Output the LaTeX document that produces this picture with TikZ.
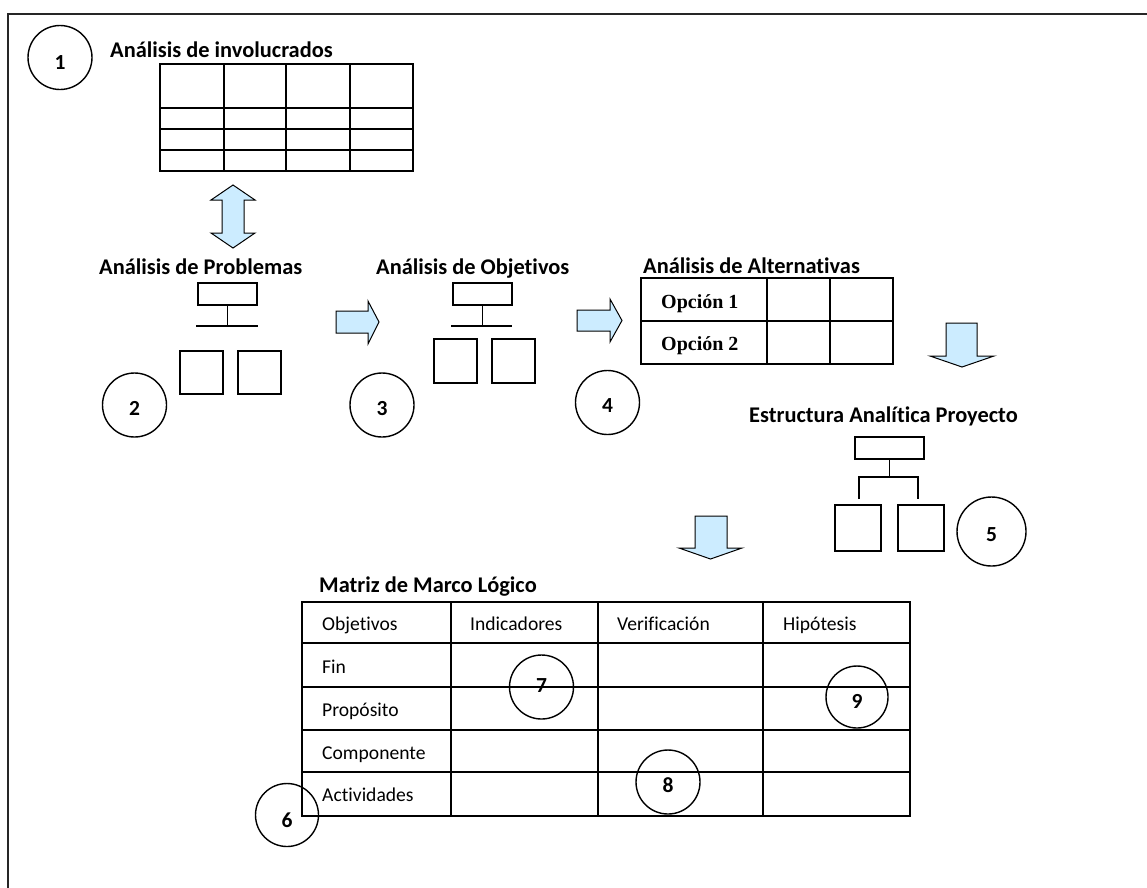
\documentclass[tikz,border=0pt]{standalone}
\usepackage{fontspec}
\setmainfont{Carlito}[Ligatures={NoCommon}]
\newfontfamily\tnr{Liberation Serif}
\definecolor{arrowblue}{RGB}{204,236,255}
\begin{document}
\begin{tikzpicture}[x=1pt,y=-1pt,
  titletext/.style={font=\fontsize{22.4}{26}\selectfont\bfseries, inner sep=0, anchor=base west},
  celltext/.style={font=\fontsize{19.6}{23}\selectfont, inner sep=0, anchor=base west},
  opttext/.style={font=\tnr\fontsize{20}{24}\selectfont\bfseries, inner sep=0, anchor=base west},
  numc/.style={circle, draw, line width=1.4pt, inner sep=0, minimum size=64pt},
  digit/.style={font=\fontsize{21.5}{25}\selectfont\bfseries, inner sep=0},
  tbl/.style={line width=1.8pt},
  hbox/.style={rectangle, draw, line width=1.5pt, inner sep=0},
  conn/.style={line width=1.5pt},
  blockarrow/.style={fill=arrowblue, draw=black, line width=1pt, line join=miter}]
\useasboundingbox (0,0) rectangle (1147,887);

% outer frame (open to the right and bottom)
\draw[line width=2pt, black!85] (8,890) -- (8,13.5) -- (1150,13.5);

% ---------- 1: Analisis de involucrados ----------
\node[titletext] (t1) at (110,57) {Análisis de involucrados};
\draw[tbl] (160,64) rectangle (413,171);
\foreach \yy in {108,129,150} \draw[tbl] (160,\yy) -- (413,\yy);
\foreach \xx in {224,286,350} \draw[tbl] (\xx,64) -- (\xx,171);
\node[numc] (c1) at (60,57.5) {};
\node[digit] (d1) at ([yshift=-5pt]c1.center) {1};

% double arrow
\draw[blockarrow] (233,185) -- (255,200) -- (244,200) -- (244,233) -- (255,233)
  -- (233,248) -- (211,233) -- (222,233) -- (222,200) -- (211,200) -- cycle;

% ---------- 2: Analisis de Problemas ----------
\node[titletext] (t2) at (99,274) {Análisis de Problemas};
\node[hbox, minimum width=59pt, minimum height=22pt] (pb) at (227.5,294) {};
\coordinate (pj) at (227.5,326);
\coordinate (pl) at (196,326);
\coordinate (pr) at (258,326);
\draw[conn] (pb.south) -- (pj);
\draw[conn] (pl) -- (pr);
\node[hbox, minimum width=43pt, minimum height=43pt] (ps1) at (201.5,372.5) {};
\node[hbox, minimum width=43pt, minimum height=43pt] (ps2) at (259.5,372.5) {};
\node[numc] (c2) at (134.5,405) {};
\node[digit] (d2) at ([yshift=-3.5pt]c2.center) {2};

% arrow 1
\draw[blockarrow] (336,311) -- (368,311) -- (368,301) -- (379,322) -- (368,344)
  -- (368,333) -- (336,333) -- cycle;

% ---------- 3: Analisis de Objetivos ----------
\node[titletext] (t3) at (376,274) {Análisis de Objetivos};
\node[hbox, minimum width=59pt, minimum height=22pt] (ob) at (482.5,294) {};
\coordinate (oj) at (482.5,326);
\coordinate (ol) at (451,326);
\coordinate (or) at (512,326);
\draw[conn] (ob.south) -- (oj);
\draw[conn] (ol) -- (or);
\node[hbox, minimum width=43pt, minimum height=44pt] (os1) at (455.5,361) {};
\node[hbox, minimum width=43pt, minimum height=44pt] (os2) at (513.5,361) {};
\node[numc] (c3) at (382,405) {};
\node[digit] (d3) at ([yshift=-3.5pt]c3.center) {3};

% arrow 2
\draw[blockarrow] (577,310) -- (610,310) -- (610,299) -- (622,320.5) -- (610,342)
  -- (610,331) -- (577,331) -- cycle;

% ---------- 4: Analisis de Alternativas ----------
\node[titletext] (t4) at (643,273) {Análisis de Alternativas};
\draw[tbl] (641,278) rectangle (893,364);
\draw[tbl] (641,321) -- (893,321);
\draw[tbl] (767,278) -- (767,364);
\draw[tbl] (830,278) -- (830,364);
\node[opttext] (op1) at (661,308) {Opción 1};
\node[opttext] (op2) at (661,350) {Opción 2};
\node[numc] (c4) at (607.5,402.5) {};
\node[digit] (d4) at ([yshift=-3.5pt]c4.center) {4};

% down arrow 1
\draw[blockarrow] (946,323) -- (977,323) -- (977,356) -- (994,356) -- (962,367)
  -- (930,356) -- (946,356) -- cycle;

% ---------- 5: Estructura Analitica Proyecto ----------
\node[titletext] (t5) at (749,422) {Estructura Analítica Proyecto};
\node[hbox, minimum width=69pt, minimum height=22pt] (eb) at (889.5,448) {};
\coordinate (ej) at (889.5,477);
\coordinate (el) at (859,477);
\coordinate (er) at (918,477);
\coordinate (eld) at (859,499);
\coordinate (erd) at (918,499);
\draw[conn] (eb.south) -- (ej);
\draw[conn] (eld) -- (el) -- (er) -- (erd);
\node[hbox, minimum width=46pt, minimum height=46pt] (es1) at (858,528) {};
\node[hbox, minimum width=46pt, minimum height=46pt] (es2) at (921,528) {};
\node[numc, minimum size=69pt] (c5) at (991.5,531.5) {};
\node[digit] (d5) at ([yshift=-3.5pt]c5.center) {5};

% down arrow 2
\draw[blockarrow] (695,516) -- (727,516) -- (727,548) -- (742,548) -- (710.5,559)
  -- (679,548) -- (695,548) -- cycle;

% ---------- 6: Matriz de Marco Logico ----------
\node[titletext] (t6) at (319,592) {Matriz de Marco Lógico};
\draw[tbl] (302,602) rectangle (910,816);
\foreach \yy in {643,687,730,772} \draw[tbl] (302,\yy) -- (910,\yy);
\foreach \xx in {451,598,763} \draw[tbl] (\xx,602) -- (\xx,816);
\node[celltext] (m1) at (322,630.5) {Objetivos};
\node[celltext] (m2) at (470,630.5) {Indicadores};
\node[celltext] (m3) at (617,630.5) {Verificación};
\node[celltext] (m4) at (783,630.5) {Hipótesis};
\node[celltext] (r1) at (322,673) {Fin};
\node[celltext] (r2) at (322,716.5) {Propósito};
\node[celltext] (r3) at (322,759) {Componente};
\node[celltext] (r4) at (322,801) {Actividades};

\node[numc, minimum size=63pt] (c6) at (287,815) {};
\node[digit] (d6) at ([yshift=-5pt]c6.center) {6};
\node[numc] (c7) at (541.5,687) {};
\node[digit] (d7) at ([yshift=1pt]c7.center) {7};
\node[numc] (c8) at (668,782) {};
\node[digit] (d8) at ([yshift=-3pt]c8.center) {8};
\node[numc, minimum size=62pt] (c9) at (857,697) {};
\node[digit] (d9) at ([yshift=-4pt]c9.center) {9};
\end{tikzpicture}
\end{document}
